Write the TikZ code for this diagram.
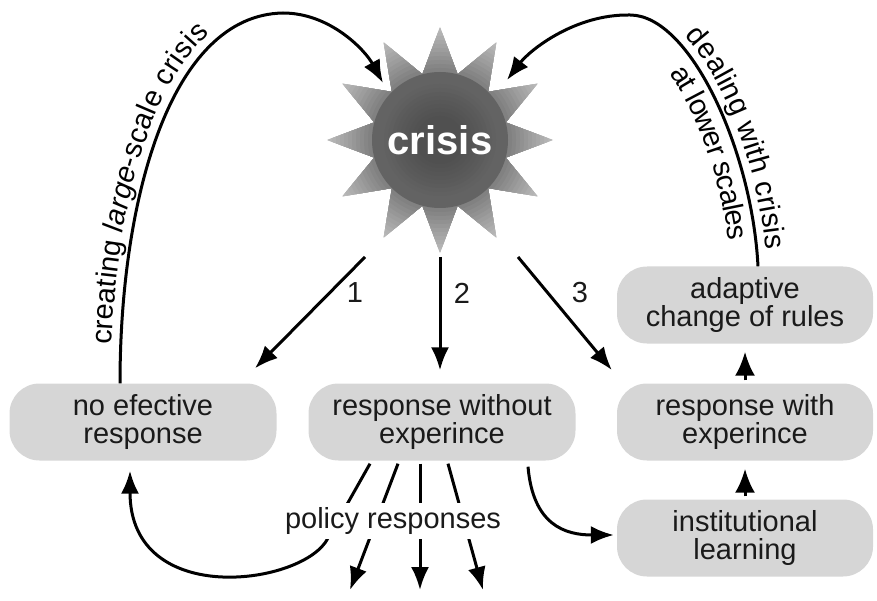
\documentclass[tikz,border=0pt]{standalone}
\usepackage{fontspec}
\setmainfont{Liberation Sans}
\usetikzlibrary{arrows.meta,decorations.text,calc}

\definecolor{boxfill}{HTML}{D6D6D6}
\definecolor{inktext}{HTML}{1A1A1A}
\definecolor{starcore}{HTML}{505050}
\definecolor{starbody}{HTML}{636363}
\definecolor{starmid}{HTML}{7E7E7E}
\definecolor{startip}{HTML}{BABABA}

\newcommand\curvefont{\fontsize{29}{29}\selectfont}

\begin{document}
\begin{tikzpicture}[x=1pt,y=-1pt,
  box/.style={rounded corners=30pt, fill=boxfill, minimum height=77pt,
    align=center, inner sep=0pt, text=inktext,
    font=\fontsize{29}{28}\selectfont},
  widebox/.style={box, minimum width=267pt},
  narrowbox/.style={box, minimum width=256pt},
  arr/.style={line width=3pt, -{Latex[length=23pt,width=18pt]}},
  smallarr/.style={line width=3pt, -{Latex[length=24pt,width=20pt]},
    shorten <=3pt, shorten >=8pt},
  num/.style={font=\fontsize{29}{29}\selectfont, text=inktext}]

\useasboundingbox (0,0) rectangle (877,601);

% crisis star: twelve spikes, dark body and lighter spike tips
\begin{scope}[shift={(440,140)}]
  \clip (105:68) \foreach \k in {1,...,11} { -- ({90+30*\k}:113) -- ({105+30*\k}:68) }
    -- (90:113) -- cycle;
  \foreach \r in {116,112,...,4} {
    \pgfmathtruncatemacro\tip{max(0,min(100,(\r-70)/43*100))}
    \pgfmathtruncatemacro\core{max(0,min(100,(\r-25)/35*100))}
    \ifnum\r>68
      \fill[startip!\tip!starmid] (0,0) circle[radius=\r];
    \else
      \fill[starbody!\core!starcore] (0,0) circle[radius=\r];
    \fi
  }
\end{scope}
\node[circle, minimum size=226pt, inner sep=0pt, text=white,
  font=\fontsize{40}{40}\selectfont\bfseries] (crisis) at (440,140) {crisis};

% response boxes
\node[widebox] (noeff) at (143,422) {no efective\\response};
\node[widebox] (rwo) at (442,422) {response without\\experince};
\node[narrowbox] (adapt) at (745,305) {adaptive\\change of rules};
\node[narrowbox] (rwe) at (745,422) {response with\\experince};
\node[narrowbox] (inst) at (745,538) {institutional\\learning};

% three response paths out of the crisis
\draw[arr] ([xshift=-75pt,yshift=-117pt]crisis.center) -- ([xshift=112pt,yshift=15pt]noeff.north);
\draw[arr] ([yshift=-117pt]crisis.center) -- ([xshift=-2pt,yshift=13pt]rwo.north);
\draw[arr] ([xshift=78pt,yshift=-117pt]crisis.center) -- ([xshift=-5pt,yshift=52pt]rwe.west);
\node[num] (n1) at (355,293) {1};
\node[num] (n2) at (462,293) {2};
\node[num] (n3) at (580,293) {3};

% feedback loops back to the crisis
\draw[arr] ([xshift=-23pt]noeff.north) .. controls (120,200) and (170,15) .. (283,13)
  .. controls (330,13) and (365,50) .. ([xshift=-57pt,yshift=57pt]crisis.center);
\path[decorate, decoration={text along path, raise=9pt, text align={left indent=38pt},
  text={|\curvefont\upshape|creating |\curvefont\itshape|large|\curvefont\upshape|-scale crisis}}]
  ([xshift=-23pt]noeff.north) .. controls (120,200) and (170,15) .. (283,13)
  .. controls (330,13) and (365,50) .. ([xshift=-57pt,yshift=57pt]crisis.center);

\draw[arr] ([xshift=13pt]adapt.north) .. controls (752,150) and (690,15) .. (630,15)
  .. controls (575,14) and (530,50) .. ([xshift=67pt,yshift=60pt]crisis.center);
\path[decorate, decoration={text along path, raise=9pt, text align={left indent=200pt},
  text={|\curvefont|dealing with crisis}}]
  ([xshift=67pt,yshift=60pt]crisis.center) .. controls (530,50) and (575,14) .. (630,15)
  .. controls (690,15) and (752,150) .. ([xshift=13pt]adapt.north);
\path[decorate, decoration={text along path, raise=-27pt, text align={left indent=222pt},
  text={|\curvefont|at lower scales}}]
  ([xshift=67pt,yshift=60pt]crisis.center) .. controls (530,50) and (575,14) .. (630,15)
  .. controls (690,15) and (752,150) .. ([xshift=13pt]adapt.north);

% learning ladder on the right
\draw[smallarr] (rwe.north) -- (adapt.south);
\draw[smallarr] (inst.north) -- (rwe.south);
\draw[arr] ([xshift=86pt,yshift=-6pt]rwo.south) .. controls (533,525) and (565,535)
  .. ([xshift=-3pt,yshift=3pt]inst.west);

% policy responses fanning out
\coordinate (p2) at (350,590);
\coordinate (p3) at (420,590);
\coordinate (p4) at (483,590);
\draw[arr] ([xshift=-72pt,yshift=-3pt]rwo.south) -- (328,538)
  .. controls (305,585) and (130,610) .. ([xshift=-13pt,yshift=-10pt]noeff.south);
\draw[arr] ([xshift=-44pt,yshift=-3pt]rwo.south) -- (p2);
\draw[arr] ([xshift=-22pt,yshift=-3pt]rwo.south) -- (p3);
\draw[arr] ([xshift=6pt,yshift=-3pt]rwo.south) -- (p4);
\node[fill=white, inner xsep=2pt, inner ysep=4pt, text=inktext,
  font=\fontsize{29}{29}\selectfont] (policy) at (393,521) {policy responses};

\end{tikzpicture}
\end{document}
